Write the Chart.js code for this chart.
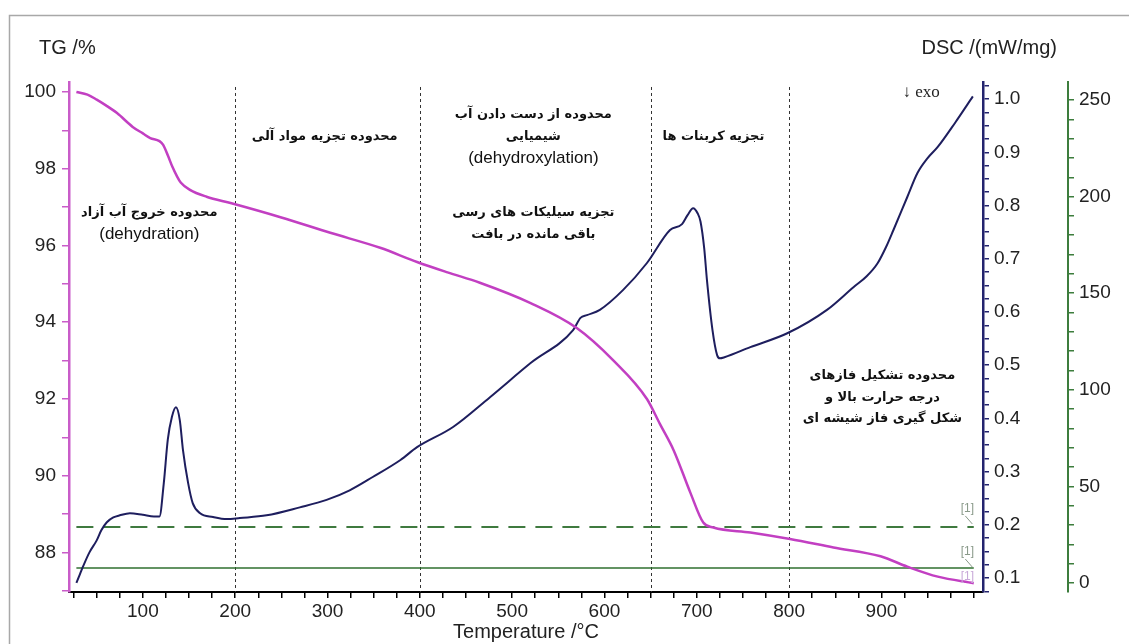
<!DOCTYPE html>
<html>
<head>
<meta charset="utf-8">
<script src="https://cdn.jsdelivr.net/npm/chart.js@4.4.1/dist/chart.umd.min.js"></script>
<style>
body{margin:0;background:#fff;}
canvas{display:block;}
</style>
</head>
<body>
<canvas id="graficoTG" width="1129" height="644"></canvas>
<script>
// ================= dados =================

// TG (%)
const tgTemp = [28, 40, 50, 60, 72, 89, 100, 108, 118, 122, 127, 132, 137, 141, 151, 169, 196, 250, 303, 357, 397, 430, 465, 520, 570, 609, 646, 660, 675, 693, 707, 718, 758, 801, 848, 899, 928, 961, 1000];
const tgValores = [100, 99.93, 99.8, 99.65, 99.45, 99.09, 98.92, 98.8, 98.72, 98.62, 98.35, 98.05, 97.8, 97.64, 97.45, 97.27, 97.1, 96.73, 96.33, 95.94, 95.57, 95.3, 95.03, 94.5, 93.85, 93.02, 92.0, 91.35, 90.66, 89.56, 88.78, 88.65, 88.52, 88.35, 88.13, 87.9, 87.63, 87.37, 87.2];

// DSC (mW/mg)
const dscTemp = [28, 32, 35, 42, 50, 55, 61, 68, 75, 86, 100, 112, 118, 122.7, 127, 131.5, 135.8, 140, 143.5, 149, 154, 162, 176, 191, 205, 234, 270, 299, 324, 349, 379, 397, 436, 476, 520, 566, 574, 581, 595, 620, 646, 671, 684, 690, 696, 701, 704, 708, 711, 717, 722, 725, 730, 758, 798, 841, 870, 884, 896, 905, 913, 928, 939, 950, 961, 980, 999];
const dscValores = [0.091, 0.108, 0.121, 0.148, 0.171, 0.19, 0.205, 0.214, 0.218, 0.222, 0.219, 0.216, 0.216, 0.279, 0.36, 0.403, 0.421, 0.397, 0.34, 0.279, 0.241, 0.222, 0.215, 0.211, 0.213, 0.218, 0.233, 0.247, 0.265, 0.29, 0.322, 0.346, 0.384, 0.44, 0.504, 0.566, 0.589, 0.594, 0.604, 0.641, 0.692, 0.754, 0.765, 0.782, 0.795, 0.785, 0.77, 0.72, 0.66, 0.566, 0.519, 0.513, 0.515, 0.534, 0.56, 0.604, 0.647, 0.667, 0.692, 0.722, 0.754, 0.816, 0.861, 0.889, 0.91, 0.956, 1.005];

// linhas de referência (eixo verde)
const refTemp = [28, 1000];
const refTracejada = [29, 29];
const refContinua = [7.8, 7.8];

// rótulos dos eixos
const xRotulos = [100, 200, 300, 400, 500, 600, 700, 800, 900];
const tgRotulos = [88, 90, 92, 94, 96, 98, 100];
const dscRotulos = [0.1, 0.2, 0.3, 0.4, 0.5, 0.6, 0.7, 0.8, 0.9, 1.0];
const verdeRotulos = [0, 50, 100, 150, 200, 250];

// limites das regiões (linhas pontilhadas)
const limitesRegioes = [200, 400, 650, 800];

// textos das regiões
const notas = [
    {t: 107, tg: 96.85, linhas: ["محدوده خروج آب آزاد", "(dehydration)"]},
    {t: 297, tg: 98.83, linhas: ["محدوده تجزیه مواد آلی"]},
    {t: 523, tg: 99.4, linhas: ["محدوده از دست دادن آب", "شیمیایی", "(dehydroxylation)"]},
    {t: 523, tg: 96.85, linhas: ["تجزیه سیلیکات های رسی", "باقی مانده در بافت"]},
    {t: 718, tg: 98.83, linhas: ["تجزیه کربنات ها"]},
    {t: 901, tg: 92.6, linhas: ["محدوده تشکیل فازهای", "درجه حرارت بالا و", "شکل گیری فاز شیشه ای"]}
];

const pares = (xs, ys) => xs.map((x, i) => ({x: x, y: ys[i]}));
const temRotulo = (lista, v) => lista.some(r => Math.abs(r - v) < 1e-6);

// ================= plugin de desenho extra =================

const extras = {
    id: "extras",
    beforeDraw(chart){
        const ctx = chart.ctx;
        ctx.save();
        ctx.fillStyle = "#fff";
        ctx.fillRect(0, 0, chart.width, chart.height);
        // moldura
        ctx.strokeStyle = "#a8a8a8";
        ctx.lineWidth = 1.5;
        ctx.beginPath();
        ctx.moveTo(9.5, chart.height);
        ctx.lineTo(9.5, 15.5);
        ctx.lineTo(chart.width, 15.5);
        ctx.stroke();
        ctx.restore();
    },
    beforeDatasetsDraw(chart){
        const ctx = chart.ctx;
        const x = chart.scales.x;
        const yTG = chart.scales.yTG;
        const area = chart.chartArea;
        ctx.save();
        ctx.strokeStyle = "#333";
        ctx.lineWidth = 1;
        ctx.setLineDash([3, 3]);
        limitesRegioes.forEach(t => {
            const px = Math.round(x.getPixelForValue(t)) + 0.5;
            ctx.beginPath();
            ctx.moveTo(px, yTG.getPixelForValue(100.13));
            ctx.lineTo(px, area.bottom);
            ctx.stroke();
        });
        ctx.restore();
    },
    afterDraw(chart){
        const ctx = chart.ctx;
        const x = chart.scales.x;
        const yTG = chart.scales.yTG;
        const yDSC = chart.scales.yDSC;
        ctx.save();

        // títulos dos eixos
        ctx.fillStyle = "#222";
        ctx.font = "20px 'Liberation Sans', Arial, sans-serif";
        ctx.textBaseline = "middle";
        ctx.textAlign = "left";
        ctx.fillText("TG /%", 39, 48);
        ctx.textAlign = "right";
        ctx.fillText("DSC /(mW/mg)", 1057, 48);

        // ↓ exo
        ctx.textAlign = "center";
        ctx.font = "17px 'Liberation Serif', serif";
        ctx.fillText("↓ exo", x.getPixelForValue(943), yTG.getPixelForValue(99.98));

        // notas das regiões
        notas.forEach(n => {
            const cx = x.getPixelForValue(n.t);
            let cy = yTG.getPixelForValue(n.tg);
            n.linhas.forEach(l => {
                const latino = /^[\x00-\x7f]+$/.test(l);
                if(latino){
                    ctx.direction = "ltr";
                    ctx.font = "17px 'Liberation Sans', Arial, sans-serif";
                } else {
                    ctx.direction = "rtl";
                    ctx.font = "bold 13px 'DejaVu Sans', sans-serif";
                }
                ctx.fillStyle = "#111";
                ctx.textAlign = "center";
                ctx.fillText(l, cx, cy);
                cy += 21.5;
            });
        });

        // marcadores [1]
        ctx.direction = "ltr";
        ctx.font = "12px 'Liberation Sans', Arial, sans-serif";
        ctx.textAlign = "center";
        const mx = x.getPixelForValue(993);
        [[0.2, "#8a9a8a"], [0.119, "#8a9a8a"], [0.095, "#c9a9d9"]].forEach((m, i) => {
            const py = yDSC.getPixelForValue(m[0]);
            ctx.fillStyle = m[1];
            ctx.fillText("[1]", mx, py - (i === 2 ? 4 : 16));
            if(i < 2){
                ctx.strokeStyle = m[1];
                ctx.lineWidth = 1;
                ctx.beginPath();
                ctx.moveTo(mx - 2, py - 9);
                ctx.lineTo(mx + 5, py - 1);
                ctx.stroke();
            }
        });
        ctx.restore();
    }
};

// ================= gráfico =================

const fonteTicks = {family: "'Liberation Sans', Arial, sans-serif", size: 19};

new Chart(document.getElementById("graficoTG"), {
    type: "line",
    data: {
        datasets: [
            {
                label: "TG",
                data: pares(tgTemp, tgValores),
                yAxisID: "yTG",
                borderColor: "#c23fc2",
                borderWidth: 2.5,
                pointRadius: 0,
                cubicInterpolationMode: "monotone"
            },
            {
                label: "DSC",
                data: pares(dscTemp, dscValores),
                yAxisID: "yDSC",
                borderColor: "#1e1e5e",
                borderWidth: 2,
                pointRadius: 0,
                cubicInterpolationMode: "monotone"
            },
            {
                label: "ref1",
                data: pares(refTemp, refTracejada),
                yAxisID: "yG",
                borderColor: "#3f7a3f",
                borderWidth: 2,
                borderDash: [17, 10],
                pointRadius: 0
            },
            {
                label: "ref2",
                data: pares(refTemp, refContinua),
                yAxisID: "yG",
                borderColor: "#2f6f2f",
                borderWidth: 1.5,
                pointRadius: 0
            }
        ]
    },
    options: {
        responsive: false,
        animation: false,
        events: [],
        layout: {padding: {top: 82, left: 0, right: 0, bottom: 0}},
        plugins: {
            legend: {display: false},
            tooltip: {enabled: false}
        },
        scales: {
            x: {
                type: "linear",
                min: 20,
                max: 1010,
                afterFit(s){ s.height = 52; },
                border: {display: true, color: "#000", width: 2},
                grid: {drawOnChartArea: false, drawTicks: true, tickLength: 6, color: "#000", lineWidth: 1.5},
                ticks: {
                    stepSize: 25,
                    includeBounds: false,
                    autoSkip: false,
                    maxRotation: 0,
                    padding: 2,
                    color: "#222",
                    font: fonteTicks,
                    callback: v => temRotulo(xRotulos, v) ? String(v) : ""
                },
                title: {
                    display: true,
                    text: "Temperature /°C",
                    color: "#222",
                    font: {family: "'Liberation Sans', Arial, sans-serif", size: 20, lineHeight: 1.15},
                    padding: 0
                }
            },
            yTG: {
                type: "linear",
                position: "left",
                min: 86.97,
                max: 100.26,
                afterFit(s){ s.width = 69; },
                border: {display: true, color: "#c95cc9", width: 2.5},
                grid: {drawOnChartArea: false, drawTicks: true, tickLength: 7, color: "#c95cc9", lineWidth: 1.5},
                ticks: {
                    stepSize: 1,
                    includeBounds: false,
                    autoSkip: false,
                    padding: 6,
                    color: "#222",
                    font: fonteTicks,
                    callback: v => temRotulo(tgRotulos, v) ? String(v) : ""
                }
            },
            yDSC: {
                type: "linear",
                position: "right",
                min: 0.074,
                max: 1.032,
                afterFit(s){ s.width = 85; },
                border: {display: true, color: "#24246e", width: 2.5},
                grid: {drawOnChartArea: false, drawTicks: true, tickLength: 6, color: "#24246e", lineWidth: 1.5},
                ticks: {
                    stepSize: 0.025,
                    includeBounds: false,
                    autoSkip: false,
                    padding: 5,
                    color: "#222",
                    font: fonteTicks,
                    callback: v => temRotulo(dscRotulos, v) ? v.toFixed(1) : ""
                }
            },
            yG: {
                type: "linear",
                position: "right",
                min: -4.66,
                max: 259.3,
                afterFit(s){ s.width = 61; },
                border: {display: true, color: "#3d7d3d", width: 2},
                grid: {drawOnChartArea: false, drawTicks: true, tickLength: 6, color: "#3d7d3d", lineWidth: 1.5},
                ticks: {
                    stepSize: 10,
                    includeBounds: false,
                    autoSkip: false,
                    padding: 5,
                    color: "#222",
                    font: fonteTicks,
                    callback: v => temRotulo(verdeRotulos, v) ? String(v) : ""
                }
            }
        }
    },
    plugins: [extras]
});
</script>
</body>
</html>
